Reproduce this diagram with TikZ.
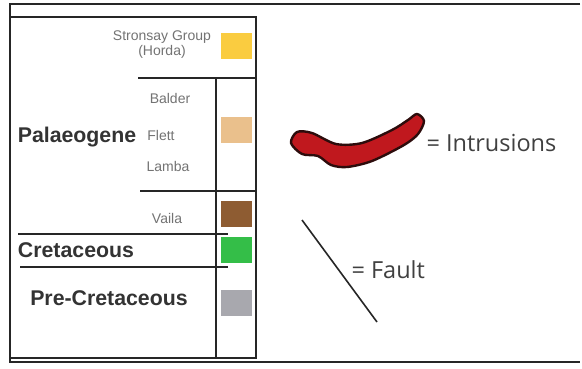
\documentclass[tikz,border=0pt]{standalone}
\usepackage{fontspec}
\setmainfont{Liberation Sans}
\newfontfamily\legendfont{Open Sans}
\begin{document}
\begin{tikzpicture}[x=1pt,y=-1pt,
  frame/.style={line width=2.2pt,black!85},
  thin/.style={line width=1.6pt,black!85},
  swatch/.style={minimum width=31pt,minimum height=26pt,inner sep=0pt},
  small/.style={font=\fontsize{14}{15}\selectfont,text=black!55,align=center},
  period/.style={font=\fontsize{21.3}{23}\selectfont\bfseries,text=black!80},
  legend/.style={font=\legendfont\fontsize{23.5}{25}\selectfont,text=black!75,anchor=west}]
\useasboundingbox[fill=white] (0,0) rectangle (582,368);
% outer frame
\draw[frame] (580,4) -- (10,4) -- (10,362) -- (580,362);
% inner column box
\draw[frame] (10,17) -- (256,17) -- (256,358) -- (10,358);
\draw[thin] (216,78) -- (216,358);
\draw[thin] (138,78) -- (256,78);
\draw[thin] (140,191) -- (256,191);
\draw[frame] (18,234) -- (228,234);
\draw[frame] (20,267) -- (228,267);
% swatches
\node[swatch,fill={rgb,255:red,250;green,204;blue,64}] (yel) at (236,46) {};
\node[swatch,fill={rgb,255:red,234;green,192;blue,140}] (tan) at (236,130) {};
\node[swatch,fill={rgb,255:red,142;green,92;blue,50}] (brn) at (236,214) {};
\node[swatch,fill={rgb,255:red,52;green,190;blue,72}] (grn) at (236,250) {};
\node[swatch,fill={rgb,255:red,168;green,168;blue,174}] (gry) at (236,303) {};
% labels
\node[small] (str) at (162,45) {Stronsay Group\\(Horda)};
\node[small] (bal) at (170,98) {Balder};
\node[small] (fle) at (161,135) {Flett};
\node[small] (lam) at (168,166) {Lamba};
\node[small] (vai) at (167,218) {Vaila};
\node[period] (pal) at (77,137) {Palaeogene};
\node[period] (cre) at (76,250) {Cretaceous};
\node[period] (pre) at (109,298) {Pre-Cretaceous};
% intrusion
\draw[line width=2.4pt,draw={rgb,255:red,45;green,12;blue,12},fill={rgb,255:red,192;green,24;blue,30},line join=round]
  plot[smooth cycle,tension=0.5] coordinates {(291,143) (297,132) (312,133) (336,144) (362,143) (392,130) (408,120) (417,114) (424,121) (418,134) (404,145) (372,161) (347,167) (331,165) (318,156) (302,154)};
\coordinate (intr) at (423,143);
\node[legend] (il) at (intr) {= Intrusions};
% fault
\coordinate (f1) at (302,220);
\coordinate (f2) at (377,322);
\draw[line width=1.6pt,black!85] (f1) -- (f2);
\node[legend] (fl) at (348,270) {= Fault};
\end{tikzpicture}
\end{document}
